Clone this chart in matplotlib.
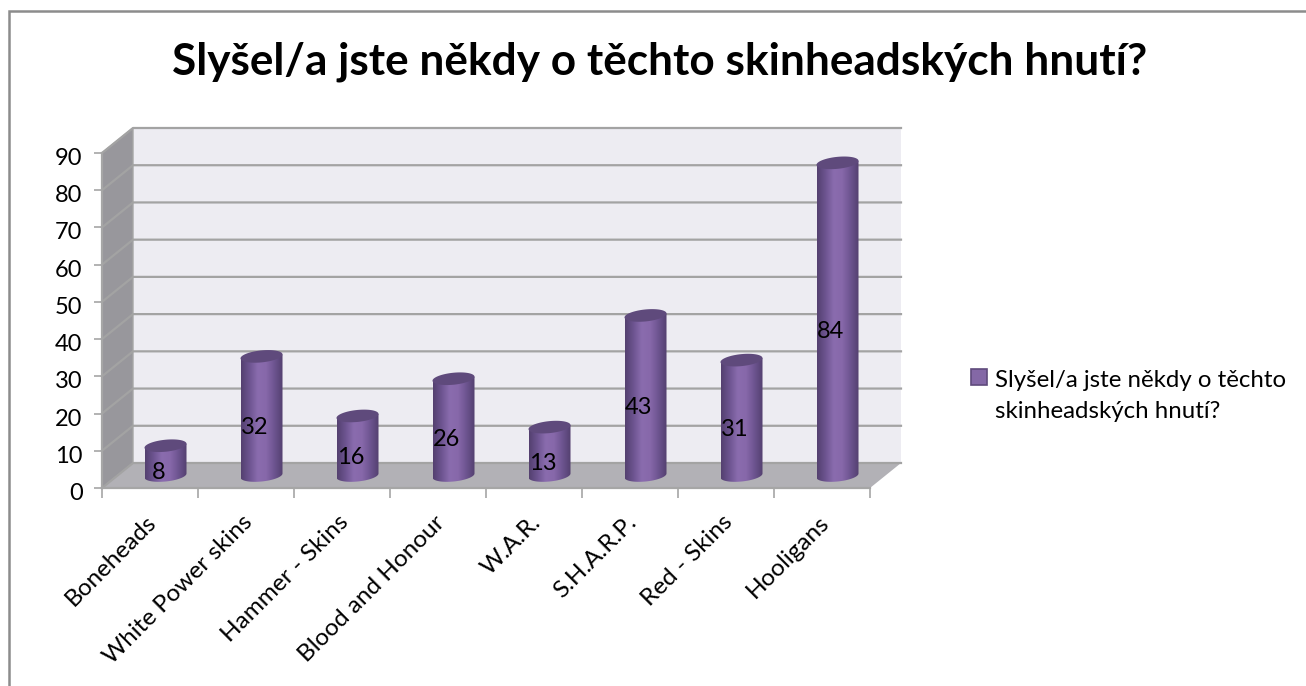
import numpy as np
import matplotlib
matplotlib.use('Agg')
import matplotlib.pyplot as plt
from matplotlib.lines import Line2D
from matplotlib.patches import Polygon, Rectangle
from matplotlib.transforms import ScaledTranslation

categories = ['Boneheads', 'White Power skins', 'Hammer - Skins', 'Blood and Honour',
              'W.A.R.', 'S.H.A.R.P.', 'Red - Skins', 'Hooligans']
values = [8, 32, 16, 26, 13, 43, 31, 84]
yticks = [0, 10, 20, 30, 40, 50, 60, 70, 80, 90]
title = 'Slyšel/a jste někdy o těchto skinheadských hnutí?'

plt.rcParams['font.family'] = ['Lato', 'DejaVu Sans']

W, H = 1306, 686
fig = plt.figure(figsize=(W / 100, H / 100), dpi=100)

# hlavni osy = predni rovina grafu
left, right, top, bottom = 102, 870, 153, 488
ax = fig.add_axes([left / W, 1 - bottom / H, (right - left) / W, (bottom - top) / H])
n = len(categories)
ax.set_xlim(0, n)
ax.set_ylim(0, 90)
ax.patch.set_visible(False)
for s in ax.spines.values():
    s.set_visible(False)

# hloubka 3D v jednotkach dat
dx = 31 / ((right - left) / n)
dy = 25 / ((bottom - top) / 90)

# zadni stena, bocni stena, podlaha
ax.add_patch(Polygon([(dx, dy), (n + dx, dy), (n + dx, 90 + dy), (dx, 90 + dy)],
                     fc='#edecf2', ec='none', clip_on=False, zorder=1))
ax.add_patch(Polygon([(0, 0), (dx, dy), (dx, 90 + dy), (0, 90)],
                     fc='#98979c', ec='#a6a6a6', lw=1, clip_on=False, zorder=1))
ax.add_patch(Polygon([(0, 0), (n, 0), (n + dx, dy), (dx, dy)],
                     fc='#b2b1b6', ec='none', clip_on=False, zorder=1))

for t in yticks:
    ax.plot([0, dx, n + dx], [t, t + dy, t + dy], color='#a3a3a3', lw=1.6, clip_on=False, zorder=2)
ax.plot([0, n], [0, 0], color='#a6a6a6', lw=1.6, clip_on=False, zorder=3)
ax.plot([0, 0], [0, 90], color='#a6a6a6', lw=1.6, clip_on=False, zorder=3)

# tick marks and labels
ax.set_yticks(yticks)
ax.set_xticks(range(n + 1))
ax.set_xticklabels([])
ax.set_xticks(np.arange(n) + 0.5, categories, minor=True, rotation=45, ha='right',
              rotation_mode='anchor', fontsize=17.5, color='black')
ax.tick_params(axis='x', which='minor', length=0, pad=17)
ax.tick_params(axis='x', which='major', length=7, width=1.2, color='#a6a6a6')
ax.tick_params(axis='y', length=6, width=1.2, color='#a6a6a6', labelsize=17, pad=8)
for lab in ax.get_yticklabels():
    lab.set_transform(lab.get_transform() + ScaledTranslation(0, -2.5 / 72, fig.dpi_scale_trans))
for lab in ax.get_xticklabels(minor=True):
    lab.set_transform(lab.get_transform() + ScaledTranslation(-3 / 72, 0, fig.dpi_scale_trans))

# valce
cyl_w = 42 / ((right - left) / n)
b = 6 / ((bottom - top) / 90)
shear = (4 / ((bottom - top) / 90)) / cyl_w
cmap = matplotlib.colors.LinearSegmentedColormap.from_list(
    'cyl', ['#54406f', '#6d5490', '#8a6cae', '#8768aa', '#6d5490', '#54406f'])
grad = np.linspace(0, 1, 128).reshape(1, -1)
theta = np.linspace(0, 2 * np.pi, 80)

for i, v in enumerate(values):
    xc = i + 0.5 + dx / 2
    y0 = dy / 2
    x1 = xc - cyl_w / 2
    x2 = xc + cyl_w / 2
    yt = v + y0
    ex = xc + cyl_w / 2 * np.cos(theta)
    ey = b * np.sin(theta) + shear * (ex - xc)
    low = theta[theta >= np.pi]
    lx = xc + cyl_w / 2 * np.cos(low)
    ly = y0 + b * np.sin(low) + shear * (lx - xc)
    pts = [(x1, yt - shear * cyl_w / 2)] + list(zip(lx, ly)) + [(x2, yt + shear * cyl_w / 2)]
    body = Polygon(pts, closed=True, transform=ax.transData, fc='none', ec='none')
    ax.add_patch(body)
    im = ax.imshow(grad, extent=(x1, x2, 0, yt + b * 2), aspect='auto', cmap=cmap,
                   zorder=4, clip_on=True)
    im.set_clip_path(body)
    ax.fill(ex, yt + ey, color='#5f4a7c', lw=0, zorder=5, clip_on=False)
    ax.text(xc - 0.07, y0 + v / 2 - 3.2, str(v), fontsize=17, ha='center', va='center',
            color='black', zorder=6)

ax.set_xlim(0, n)
ax.set_ylim(0, 90)

fig.text(660 / W, 1 - 62 / H, title, fontsize=31.8, fontweight='bold', ha='center', va='center')

# legenda
fig.add_artist(Rectangle((971 / W, 1 - 385 / H), 16 / W, 16 / H, transform=fig.transFigure,
                         fc='#8468a6', ec='#5f4a7c', lw=1.2))
fig.text(995 / W, 1 - 380 / H, 'Slyšel/a jste někdy o těchto', fontsize=17.3, ha='left', va='center')
fig.text(995 / W, 1 - 412 / H, 'skinheadských hnutí?', fontsize=17.3, ha='left', va='center')

# ramecek - jen nahore a vlevo, zbytek je oriznuty
fig.add_artist(Line2D([9 / W, 9 / W, 1], [0, 1 - 11 / H, 1 - 11 / H], transform=fig.transFigure,
                      color='#8c8c8c', lw=1.8, solid_joinstyle='miter'))

fig.savefig('out.png', dpi=100)
